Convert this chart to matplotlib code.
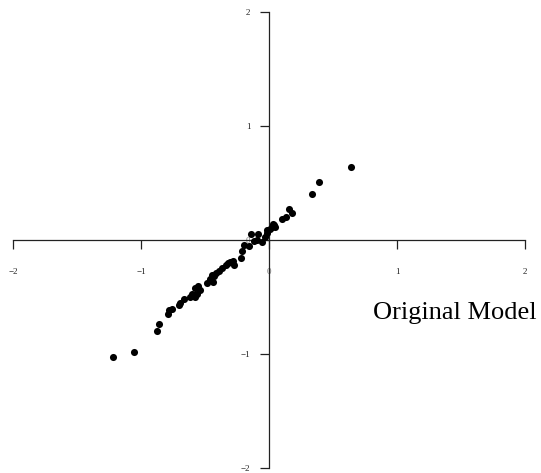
import matplotlib.pyplot as plt
import numpy as np

plt.rcParams['font.family'] = ['Liberation Serif', 'DejaVu Serif']

# points (x, y)
xs = [0.638, 0.393, 0.336, 0.154, 0.182, 0.133, 0.102, 0.034, 0.049, 0.021,
      -0.018, -0.013, -0.083, -0.141, -0.096, -0.057, -0.115, -0.154, -0.195, -0.208,
      -0.219, -0.279, -0.273, -0.305, -0.336, -0.370, -0.388, -0.414, -0.448, -0.435,
      -0.487, -0.461, -0.552, -0.578, -0.539, -0.565, -0.578, -0.617, -0.664, -0.695,
      -0.705, -0.760, -0.779, -0.792, -0.857, -0.873, -1.052, -1.221,
      0.040, -0.030, -0.320, -0.430, -0.600, 0.010]
ys = [0.643, 0.506, 0.401, 0.275, 0.234, 0.199, 0.184, 0.140, 0.117, 0.117,
      0.058, 0.088, 0.053, 0.053, 0.000, -0.020, -0.009, -0.053, -0.044, -0.099,
      -0.155, -0.181, -0.219, -0.196, -0.219, -0.248, -0.272, -0.292, -0.307, -0.366,
      -0.380, -0.345, -0.401, -0.424, -0.439, -0.474, -0.497, -0.497, -0.520, -0.550,
      -0.570, -0.605, -0.614, -0.652, -0.740, -0.798, -0.980, -1.029,
      0.130, 0.030, -0.205, -0.320, -0.470, 0.100]

ticks = [-2, -1, 0, 1, 2]
label_text = "Original Model"

fig = plt.figure(figsize=(5.41, 4.73), dpi=100)
ax = fig.add_axes([13 / 541, 5 / 473, 512 / 541, 456 / 473])

ax.scatter(xs, ys, s=26, color='black', linewidths=0, zorder=3)

ax.set_xlim(-2, 2)
ax.set_ylim(-2, 2)
ax.spines['left'].set_position(('data', 0))
ax.spines['bottom'].set_position(('data', 0))
ax.spines['top'].set_visible(False)
ax.spines['right'].set_visible(False)
for s in ['left', 'bottom']:
    ax.spines[s].set_linewidth(0.9)
    ax.spines[s].set_color('#222222')

ax.set_xticks(ticks)
ax.set_yticks(ticks)
ax.set_xticklabels(['\u2212' + str(-t) if t < 0 else str(t) for t in ticks])
ax.set_yticklabels(['\u2212' + str(-t) if t < 0 else str(t) for t in ticks])
ax.tick_params(axis='x', direction='out', length=6.5, width=0.9, pad=14,
               labelsize=6.5, colors='#222222')
ax.tick_params(axis='y', direction='out', length=6.5, width=0.9, pad=7,
               labelsize=6.5, colors='#222222')
for lab in ax.get_xticklabels() + ax.get_yticklabels():
    if lab.get_text() == '0':
        lab.set_color('#777777')

ax.text(0.81, -0.64, label_text, fontsize=19, ha='left', va='center')

fig.savefig('out.png', dpi=100)
